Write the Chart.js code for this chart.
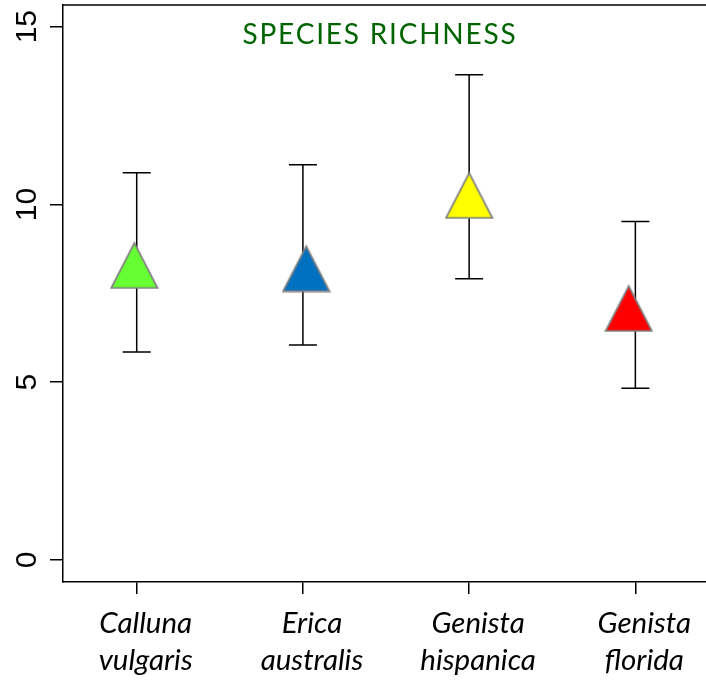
<!DOCTYPE html>
<html><head><meta charset="utf-8">
<script src="https://cdn.jsdelivr.net/npm/chart.js@4/dist/chart.umd.min.js"></script>
<style>html,body{margin:0;padding:0;background:#fff;overflow:hidden}#wrap{width:706px;height:683px;position:relative}</style>
</head><body><div id="wrap"><canvas id="c" width="706" height="683"></canvas></div>
<script>
// ---- data ----
const SPECIES = [["Calluna","vulgaris"],["Erica","australis"],["Genista","hispanica"],["Genista","florida"]];
const SPECIES_POS = [1, 2, 3, 4];
const MARKER_POS = [0.986, 2.02, 3.0, 3.96];
const MEAN  = [8.30, 8.21, 10.27, 7.09];
const UPPER = [10.89, 11.12, 13.65, 9.52];
const LOWER = [5.85, 6.05, 7.91, 4.83];
const Y_TICKS = [0, 5, 10, 15];
const COLORS = ["#66FF33", "#0070C0", "#FFFF00", "#FF0000"];
const TITLE = "SPECIES RICHNESS";

function tri(color){
  const c = document.createElement('canvas'); c.width = 49; c.height = 49;
  const g = c.getContext('2d');
  g.beginPath(); g.moveTo(24.5, 2.6); g.lineTo(1.3, 47.6); g.lineTo(47.7, 47.6); g.closePath();
  g.fillStyle = color; g.fill();
  g.lineWidth = 1.8; g.strokeStyle = '#808080'; g.lineJoin = 'miter'; g.stroke();
  return c;
}

const errorBars = {id:'errorBars', beforeDatasetsDraw(chart){
  const {ctx, scales:{x, y}} = chart;
  ctx.save(); ctx.strokeStyle = '#000'; ctx.lineWidth = 1.5;
  SPECIES_POS.forEach((p, i) => {
    const px = x.getPixelForValue(p), hi = y.getPixelForValue(UPPER[i]), lo = y.getPixelForValue(LOWER[i]);
    ctx.beginPath();
    ctx.moveTo(px, hi); ctx.lineTo(px, lo);
    ctx.moveTo(px - 14, hi); ctx.lineTo(px + 14, hi);
    ctx.moveTo(px - 14, lo); ctx.lineTo(px + 14, lo);
    ctx.stroke();
  });
  ctx.restore();
}};

const frame = {id:'frame', afterDraw(chart){
  const {ctx, chartArea:a} = chart;
  ctx.save(); ctx.strokeStyle = '#000'; ctx.lineWidth = 1.5;
  ctx.beginPath(); ctx.moveTo(a.left, a.top); ctx.lineTo(a.right, a.top); ctx.stroke();
  ctx.fillStyle = '#006400'; ctx.font = '28px Lato'; ctx.textAlign = 'center'; ctx.textBaseline = 'alphabetic';
  try { ctx.letterSpacing = '1.8px'; } catch(e) {}
  ctx.fillText(TITLE, a.left + (a.right - a.left) * 0.493, a.top + 39.3);
  ctx.restore();
}};

new Chart(document.getElementById('c'), {
  type: 'scatter',
  data: { datasets: [{
    data: MEAN.map((m, i) => ({x: MARKER_POS[i], y: m})),
    pointStyle: COLORS.map(tri),
    pointRadius: 24,
    showLine: false
  }]},
  options: {
    responsive: false, animation: false, events: [],
    layout: {autoPadding: false, padding: {left: 0, right: 0, top: 5, bottom: 0}},
    plugins: {legend: {display: false}, tooltip: {enabled: false}},
    scales: {
      x: {
        type: 'linear', position: 'bottom', min: 0.5566, max: 4.425,
        afterBuildTicks: s => { s.ticks = SPECIES_POS.map(v => ({value: v})); },
        afterFit: s => { s.height = 101; s.paddingLeft = 0; s.paddingRight = 0; },
        ticks: {
          callback: (v, i) => SPECIES[i],
          font: {family: 'Lato', style: 'italic', size: 29.5, lineHeight: '37px'},
          color: '#000', padding: 11, labelOffset: 9, maxRotation: 0, minRotation: 0, autoSkip: false
        },
        grid: {drawOnChartArea: false, drawTicks: true, tickLength: 12, color: '#000', lineWidth: 1.5},
        border: {display: true, color: '#000', width: 1.5}
      },
      y: {
        type: 'linear', position: 'left', min: -0.619, max: 15.61,
        afterBuildTicks: s => { s.ticks = Y_TICKS.map(v => ({value: v})); },
        afterFit: s => { s.width = 63; s.paddingTop = 0; s.paddingBottom = 0; },
        ticks: {
          callback: v => String(v),
          font: {family: 'Liberation Sans', size: 30},
          color: '#000', padding: 5.8, minRotation: 90, maxRotation: 90, crossAlign: 'center', autoSkip: false
        },
        grid: {drawOnChartArea: false, drawTicks: true, tickLength: 13, color: '#000', lineWidth: 1.5},
        border: {display: true, color: '#000', width: 1.5}
      }
    }
  },
  plugins: [errorBars, frame]
});
</script></body></html>
